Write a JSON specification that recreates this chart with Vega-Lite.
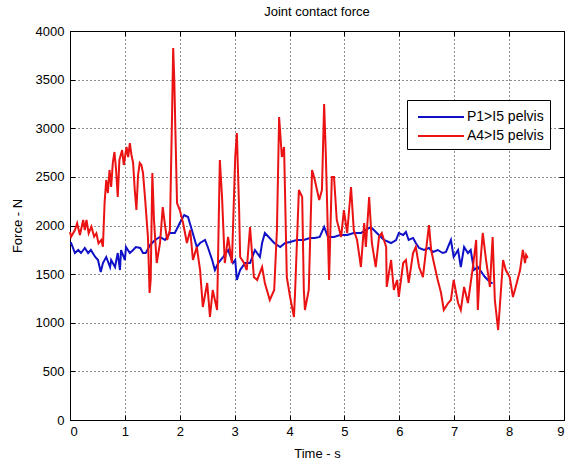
{
  "$schema": "https://vega.github.io/schema/vega-lite/v6.json",
  "width": 494,
  "height": 389,
  "autosize": {"type": "none"},
  "padding": {"left": 70, "top": 31, "right": 6, "bottom": 41},
  "background": "white",
  "config": {
    "font": "Liberation Sans",
    "view": {"stroke": "black", "strokeWidth": 1},
    "axis": {
      "domainColor": "black",
      "tickColor": "black",
      "labelColor": "black",
      "titleColor": "black",
      "labelFont": "Liberation Sans",
      "titleFont": "Liberation Sans",
      "labelFontSize": 13,
      "titleFontSize": 13,
      "titleFontWeight": "normal",
      "gridColor": "black",
      "gridDash": [1, 3],
      "gridOpacity": 0.9,
      "gridWidth": 1,
      "tickSize": -5
    }
  },
  "title": {"text": "Joint contact force", "fontSize": 13, "fontWeight": "normal", "color": "black", "font": "Liberation Sans", "offset": 6},
  "data": {"values": [
    {"s":"P1>I5 pelvis","t":0,"f":1820},{"s":"P1>I5 pelvis","t":0.02,"f":1820},{"s":"P1>I5 pelvis","t":0.09,"f":1717},{"s":"P1>I5 pelvis","t":0.15,"f":1748},{"s":"P1>I5 pelvis","t":0.2,"f":1717},{"s":"P1>I5 pelvis","t":0.27,"f":1769},{"s":"P1>I5 pelvis","t":0.33,"f":1717},{"s":"P1>I5 pelvis","t":0.38,"f":1748},{"s":"P1>I5 pelvis","t":0.46,"f":1676},{"s":"P1>I5 pelvis","t":0.51,"f":1645},{"s":"P1>I5 pelvis","t":0.56,"f":1522},{"s":"P1>I5 pelvis","t":0.6,"f":1614},{"s":"P1>I5 pelvis","t":0.66,"f":1676},{"s":"P1>I5 pelvis","t":0.73,"f":1573},{"s":"P1>I5 pelvis","t":0.75,"f":1645},{"s":"P1>I5 pelvis","t":0.82,"f":1573},{"s":"P1>I5 pelvis","t":0.87,"f":1717},{"s":"P1>I5 pelvis","t":0.91,"f":1542},{"s":"P1>I5 pelvis","t":0.93,"f":1748},{"s":"P1>I5 pelvis","t":1.0,"f":1645},{"s":"P1>I5 pelvis","t":1.02,"f":1779},{"s":"P1>I5 pelvis","t":1.09,"f":1717},{"s":"P1>I5 pelvis","t":1.15,"f":1748},{"s":"P1>I5 pelvis","t":1.2,"f":1779},{"s":"P1>I5 pelvis","t":1.28,"f":1769},{"s":"P1>I5 pelvis","t":1.33,"f":1717},{"s":"P1>I5 pelvis","t":1.38,"f":1717},{"s":"P1>I5 pelvis","t":1.46,"f":1800},{"s":"P1>I5 pelvis","t":1.55,"f":1851},{"s":"P1>I5 pelvis","t":1.64,"f":1882},{"s":"P1>I5 pelvis","t":1.73,"f":1851},{"s":"P1>I5 pelvis","t":1.82,"f":1923},{"s":"P1>I5 pelvis","t":1.91,"f":1923},{"s":"P1>I5 pelvis","t":2.0,"f":2026},{"s":"P1>I5 pelvis","t":2.08,"f":2108},{"s":"P1>I5 pelvis","t":2.15,"f":2087},{"s":"P1>I5 pelvis","t":2.22,"f":1954},{"s":"P1>I5 pelvis","t":2.31,"f":1779},{"s":"P1>I5 pelvis","t":2.37,"f":1820},{"s":"P1>I5 pelvis","t":2.46,"f":1851},{"s":"P1>I5 pelvis","t":2.51,"f":1779},{"s":"P1>I5 pelvis","t":2.59,"f":1645},{"s":"P1>I5 pelvis","t":2.64,"f":1542},{"s":"P1>I5 pelvis","t":2.7,"f":1614},{"s":"P1>I5 pelvis","t":2.79,"f":1676},{"s":"P1>I5 pelvis","t":2.88,"f":1748},{"s":"P1>I5 pelvis","t":2.97,"f":1614},{"s":"P1>I5 pelvis","t":3.01,"f":1645},{"s":"P1>I5 pelvis","t":3.04,"f":1440},{"s":"P1>I5 pelvis","t":3.1,"f":1542},{"s":"P1>I5 pelvis","t":3.19,"f":1614},{"s":"P1>I5 pelvis","t":3.28,"f":1614},{"s":"P1>I5 pelvis","t":3.37,"f":1748},{"s":"P1>I5 pelvis","t":3.46,"f":1676},{"s":"P1>I5 pelvis","t":3.5,"f":1820},{"s":"P1>I5 pelvis","t":3.55,"f":1923},{"s":"P1>I5 pelvis","t":3.62,"f":1882},{"s":"P1>I5 pelvis","t":3.72,"f":1820},{"s":"P1>I5 pelvis","t":3.83,"f":1779},{"s":"P1>I5 pelvis","t":3.92,"f":1820},{"s":"P1>I5 pelvis","t":4.01,"f":1830},{"s":"P1>I5 pelvis","t":4.13,"f":1851},{"s":"P1>I5 pelvis","t":4.26,"f":1851},{"s":"P1>I5 pelvis","t":4.37,"f":1872},{"s":"P1>I5 pelvis","t":4.46,"f":1872},{"s":"P1>I5 pelvis","t":4.55,"f":1882},{"s":"P1>I5 pelvis","t":4.63,"f":1985},{"s":"P1>I5 pelvis","t":4.7,"f":1882},{"s":"P1>I5 pelvis","t":4.81,"f":1882},{"s":"P1>I5 pelvis","t":4.92,"f":1902},{"s":"P1>I5 pelvis","t":5.05,"f":1902},{"s":"P1>I5 pelvis","t":5.17,"f":1923},{"s":"P1>I5 pelvis","t":5.3,"f":1923},{"s":"P1>I5 pelvis","t":5.39,"f":1954},{"s":"P1>I5 pelvis","t":5.48,"f":1985},{"s":"P1>I5 pelvis","t":5.59,"f":1923},{"s":"P1>I5 pelvis","t":5.72,"f":1851},{"s":"P1>I5 pelvis","t":5.85,"f":1820},{"s":"P1>I5 pelvis","t":5.94,"f":1851},{"s":"P1>I5 pelvis","t":5.99,"f":1923},{"s":"P1>I5 pelvis","t":6.07,"f":1902},{"s":"P1>I5 pelvis","t":6.12,"f":1933},{"s":"P1>I5 pelvis","t":6.17,"f":1851},{"s":"P1>I5 pelvis","t":6.25,"f":1872},{"s":"P1>I5 pelvis","t":6.3,"f":1820},{"s":"P1>I5 pelvis","t":6.36,"f":1769},{"s":"P1>I5 pelvis","t":6.45,"f":1748},{"s":"P1>I5 pelvis","t":6.54,"f":1769},{"s":"P1>I5 pelvis","t":6.61,"f":1728},{"s":"P1>I5 pelvis","t":6.7,"f":1748},{"s":"P1>I5 pelvis","t":6.79,"f":1717},{"s":"P1>I5 pelvis","t":6.85,"f":1728},{"s":"P1>I5 pelvis","t":6.94,"f":1851},{"s":"P1>I5 pelvis","t":6.99,"f":1676},{"s":"P1>I5 pelvis","t":7.07,"f":1748},{"s":"P1>I5 pelvis","t":7.12,"f":1573},{"s":"P1>I5 pelvis","t":7.18,"f":1779},{"s":"P1>I5 pelvis","t":7.25,"f":1717},{"s":"P1>I5 pelvis","t":7.3,"f":1748},{"s":"P1>I5 pelvis","t":7.36,"f":1542},{"s":"P1>I5 pelvis","t":7.43,"f":1573},{"s":"P1>I5 pelvis","t":7.56,"f":1470},{"s":"P1>I5 pelvis","t":7.67,"f":1409},{"s":"P1>I5 pelvis","t":7.7,"f":1409},
    {"s":"A4>I5 pelvis","t":0,"f":1933},{"s":"A4>I5 pelvis","t":0.02,"f":1885},{"s":"A4>I5 pelvis","t":0.09,"f":1954},{"s":"A4>I5 pelvis","t":0.13,"f":2023},{"s":"A4>I5 pelvis","t":0.18,"f":1902},{"s":"A4>I5 pelvis","t":0.24,"f":2057},{"s":"A4>I5 pelvis","t":0.27,"f":1954},{"s":"A4>I5 pelvis","t":0.3,"f":2057},{"s":"A4>I5 pelvis","t":0.34,"f":1920},{"s":"A4>I5 pelvis","t":0.39,"f":1988},{"s":"A4>I5 pelvis","t":0.44,"f":1885},{"s":"A4>I5 pelvis","t":0.48,"f":1920},{"s":"A4>I5 pelvis","t":0.52,"f":1817},{"s":"A4>I5 pelvis","t":0.57,"f":1851},{"s":"A4>I5 pelvis","t":0.6,"f":1782},{"s":"A4>I5 pelvis","t":0.63,"f":2231},{"s":"A4>I5 pelvis","t":0.66,"f":2468},{"s":"A4>I5 pelvis","t":0.69,"f":2334},{"s":"A4>I5 pelvis","t":0.72,"f":2571},{"s":"A4>I5 pelvis","t":0.75,"f":2396},{"s":"A4>I5 pelvis","t":0.78,"f":2643},{"s":"A4>I5 pelvis","t":0.81,"f":2756},{"s":"A4>I5 pelvis","t":0.84,"f":2571},{"s":"A4>I5 pelvis","t":0.87,"f":2293},{"s":"A4>I5 pelvis","t":0.9,"f":2674},{"s":"A4>I5 pelvis","t":0.95,"f":2776},{"s":"A4>I5 pelvis","t":0.98,"f":2622},{"s":"A4>I5 pelvis","t":1.03,"f":2807},{"s":"A4>I5 pelvis","t":1.06,"f":2704},{"s":"A4>I5 pelvis","t":1.09,"f":2848},{"s":"A4>I5 pelvis","t":1.12,"f":2725},{"s":"A4>I5 pelvis","t":1.15,"f":2643},{"s":"A4>I5 pelvis","t":1.18,"f":2365},{"s":"A4>I5 pelvis","t":1.21,"f":2159},{"s":"A4>I5 pelvis","t":1.24,"f":2519},{"s":"A4>I5 pelvis","t":1.27,"f":2643},{"s":"A4>I5 pelvis","t":1.3,"f":2622},{"s":"A4>I5 pelvis","t":1.33,"f":2540},{"s":"A4>I5 pelvis","t":1.37,"f":2262},{"s":"A4>I5 pelvis","t":1.42,"f":1882},{"s":"A4>I5 pelvis","t":1.45,"f":1306},{"s":"A4>I5 pelvis","t":1.47,"f":1440},{"s":"A4>I5 pelvis","t":1.5,"f":2540},{"s":"A4>I5 pelvis","t":1.53,"f":2057},{"s":"A4>I5 pelvis","t":1.58,"f":1614},{"s":"A4>I5 pelvis","t":1.64,"f":1820},{"s":"A4>I5 pelvis","t":1.69,"f":2190},{"s":"A4>I5 pelvis","t":1.73,"f":2005},{"s":"A4>I5 pelvis","t":1.77,"f":1851},{"s":"A4>I5 pelvis","t":1.82,"f":1954},{"s":"A4>I5 pelvis","t":1.86,"f":3157},{"s":"A4>I5 pelvis","t":1.88,"f":3825},{"s":"A4>I5 pelvis","t":1.9,"f":3496},{"s":"A4>I5 pelvis","t":1.92,"f":2982},{"s":"A4>I5 pelvis","t":1.95,"f":2231},{"s":"A4>I5 pelvis","t":2.0,"f":2159},{"s":"A4>I5 pelvis","t":2.06,"f":2026},{"s":"A4>I5 pelvis","t":2.13,"f":1820},{"s":"A4>I5 pelvis","t":2.19,"f":1954},{"s":"A4>I5 pelvis","t":2.24,"f":1645},{"s":"A4>I5 pelvis","t":2.31,"f":1779},{"s":"A4>I5 pelvis","t":2.37,"f":1542},{"s":"A4>I5 pelvis","t":2.42,"f":1162},{"s":"A4>I5 pelvis","t":2.5,"f":1409},{"s":"A4>I5 pelvis","t":2.55,"f":1059},{"s":"A4>I5 pelvis","t":2.6,"f":1337},{"s":"A4>I5 pelvis","t":2.68,"f":1131},{"s":"A4>I5 pelvis","t":2.73,"f":2674},{"s":"A4>I5 pelvis","t":2.77,"f":2293},{"s":"A4>I5 pelvis","t":2.82,"f":1614},{"s":"A4>I5 pelvis","t":2.88,"f":1882},{"s":"A4>I5 pelvis","t":2.95,"f":1614},{"s":"A4>I5 pelvis","t":3.01,"f":2704},{"s":"A4>I5 pelvis","t":3.04,"f":2951},{"s":"A4>I5 pelvis","t":3.08,"f":2190},{"s":"A4>I5 pelvis","t":3.1,"f":1676},{"s":"A4>I5 pelvis","t":3.17,"f":1614},{"s":"A4>I5 pelvis","t":3.22,"f":1542},{"s":"A4>I5 pelvis","t":3.28,"f":1985},{"s":"A4>I5 pelvis","t":3.35,"f":1470},{"s":"A4>I5 pelvis","t":3.41,"f":1440},{"s":"A4>I5 pelvis","t":3.5,"f":1573},{"s":"A4>I5 pelvis","t":3.55,"f":1409},{"s":"A4>I5 pelvis","t":3.64,"f":1234},{"s":"A4>I5 pelvis","t":3.72,"f":1337},{"s":"A4>I5 pelvis","t":3.77,"f":1954},{"s":"A4>I5 pelvis","t":3.81,"f":3116},{"s":"A4>I5 pelvis","t":3.86,"f":2704},{"s":"A4>I5 pelvis","t":3.9,"f":2807},{"s":"A4>I5 pelvis","t":3.95,"f":1470},{"s":"A4>I5 pelvis","t":4.01,"f":1265},{"s":"A4>I5 pelvis","t":4.08,"f":1059},{"s":"A4>I5 pelvis","t":4.1,"f":1306},{"s":"A4>I5 pelvis","t":4.17,"f":2365},{"s":"A4>I5 pelvis","t":4.23,"f":2293},{"s":"A4>I5 pelvis","t":4.26,"f":1337},{"s":"A4>I5 pelvis","t":4.28,"f":1131},{"s":"A4>I5 pelvis","t":4.35,"f":1337},{"s":"A4>I5 pelvis","t":4.41,"f":2571},{"s":"A4>I5 pelvis","t":4.46,"f":2468},{"s":"A4>I5 pelvis","t":4.54,"f":2262},{"s":"A4>I5 pelvis","t":4.59,"f":2365},{"s":"A4>I5 pelvis","t":4.63,"f":3249},{"s":"A4>I5 pelvis","t":4.66,"f":2746},{"s":"A4>I5 pelvis","t":4.72,"f":1440},{"s":"A4>I5 pelvis","t":4.77,"f":2499},{"s":"A4>I5 pelvis","t":4.81,"f":2499},{"s":"A4>I5 pelvis","t":4.86,"f":2057},{"s":"A4>I5 pelvis","t":4.94,"f":1882},{"s":"A4>I5 pelvis","t":4.99,"f":2159},{"s":"A4>I5 pelvis","t":5.05,"f":1923},{"s":"A4>I5 pelvis","t":5.12,"f":2396},{"s":"A4>I5 pelvis","t":5.17,"f":1954},{"s":"A4>I5 pelvis","t":5.23,"f":1851},{"s":"A4>I5 pelvis","t":5.3,"f":1573},{"s":"A4>I5 pelvis","t":5.36,"f":2026},{"s":"A4>I5 pelvis","t":5.39,"f":1779},{"s":"A4>I5 pelvis","t":5.45,"f":2293},{"s":"A4>I5 pelvis","t":5.5,"f":1820},{"s":"A4>I5 pelvis","t":5.57,"f":1573},{"s":"A4>I5 pelvis","t":5.63,"f":1882},{"s":"A4>I5 pelvis","t":5.68,"f":1923},{"s":"A4>I5 pelvis","t":5.76,"f":1779},{"s":"A4>I5 pelvis","t":5.77,"f":1368},{"s":"A4>I5 pelvis","t":5.85,"f":1645},{"s":"A4>I5 pelvis","t":5.9,"f":1337},{"s":"A4>I5 pelvis","t":5.96,"f":1440},{"s":"A4>I5 pelvis","t":5.99,"f":1265},{"s":"A4>I5 pelvis","t":6.07,"f":1614},{"s":"A4>I5 pelvis","t":6.12,"f":1645},{"s":"A4>I5 pelvis","t":6.17,"f":1409},{"s":"A4>I5 pelvis","t":6.25,"f":1717},{"s":"A4>I5 pelvis","t":6.3,"f":1779},{"s":"A4>I5 pelvis","t":6.36,"f":1573},{"s":"A4>I5 pelvis","t":6.43,"f":1470},{"s":"A4>I5 pelvis","t":6.48,"f":1717},{"s":"A4>I5 pelvis","t":6.54,"f":2005},{"s":"A4>I5 pelvis","t":6.58,"f":1748},{"s":"A4>I5 pelvis","t":6.63,"f":1614},{"s":"A4>I5 pelvis","t":6.7,"f":1440},{"s":"A4>I5 pelvis","t":6.76,"f":1306},{"s":"A4>I5 pelvis","t":6.81,"f":1131},{"s":"A4>I5 pelvis","t":6.89,"f":1203},{"s":"A4>I5 pelvis","t":6.94,"f":1234},{"s":"A4>I5 pelvis","t":6.99,"f":1440},{"s":"A4>I5 pelvis","t":7.07,"f":1203},{"s":"A4>I5 pelvis","t":7.12,"f":1131},{"s":"A4>I5 pelvis","t":7.18,"f":1368},{"s":"A4>I5 pelvis","t":7.25,"f":1203},{"s":"A4>I5 pelvis","t":7.3,"f":1409},{"s":"A4>I5 pelvis","t":7.34,"f":1573},{"s":"A4>I5 pelvis","t":7.4,"f":1851},{"s":"A4>I5 pelvis","t":7.43,"f":1131},{"s":"A4>I5 pelvis","t":7.47,"f":1573},{"s":"A4>I5 pelvis","t":7.52,"f":1923},{"s":"A4>I5 pelvis","t":7.58,"f":1645},{"s":"A4>I5 pelvis","t":7.65,"f":1368},{"s":"A4>I5 pelvis","t":7.7,"f":1882},{"s":"A4>I5 pelvis","t":7.74,"f":1234},{"s":"A4>I5 pelvis","t":7.8,"f":925},{"s":"A4>I5 pelvis","t":7.83,"f":1162},{"s":"A4>I5 pelvis","t":7.89,"f":1645},{"s":"A4>I5 pelvis","t":7.94,"f":1542},{"s":"A4>I5 pelvis","t":8.01,"f":1470},{"s":"A4>I5 pelvis","t":8.07,"f":1265},{"s":"A4>I5 pelvis","t":8.12,"f":1368},{"s":"A4>I5 pelvis","t":8.2,"f":1542},{"s":"A4>I5 pelvis","t":8.25,"f":1748},{"s":"A4>I5 pelvis","t":8.29,"f":1614},{"s":"A4>I5 pelvis","t":8.31,"f":1697},{"s":"A4>I5 pelvis","t":8.34,"f":1666}
  ]},
  "layer": [
    {
      "mark": {"type": "line", "strokeWidth": 2},
      "encoding": {
        "x": {"field": "t", "type": "quantitative", "scale": {"domain": [0, 9], "nice": false, "zero": false},
              "axis": {"orient": "bottom", "values": [0,1,2,3,4,5,6,7,8,9], "grid": true, "labelPadding": 10, "title": "Time - s", "titleX": 247, "titleY": 33, "titleBaseline": "middle", "titleAnchor": null}},
        "y": {"field": "f", "type": "quantitative", "scale": {"domain": [0, 4000], "nice": false},
              "axis": {"orient": "left", "format": "d", "values": [0,500,1000,1500,2000,2500,3000,3500,4000], "grid": true, "labelPadding": 11, "title": "Force - N", "titleX": -53, "titleY": 194.5, "titleBaseline": "middle", "titleAnchor": null}},
        "color": {"field": "s", "type": "nominal", "sort": null,
                  "scale": {"domain": ["P1>I5 pelvis", "A4>I5 pelvis"], "range": ["#1010c8", "#ea1212"]},
                  "legend": {"title": null, "orient": "none", "legendX": 337, "legendY": 69, "fillColor": "white", "strokeColor": "black", "padding": 6, "symbolType": "M-0.6,0H4", "symbolSize": 400, "symbolStrokeWidth": 2, "labelFontSize": 14, "labelColor": "black", "labelFont": "Liberation Sans", "rowPadding": 1, "labelOffset": 32}}
      }
    },
    {
      "mark": {"type": "line", "opacity": 0},
      "encoding": {
        "x": {"field": "t", "type": "quantitative", "axis": {"orient": "top", "values": [0,1,2,3,4,5,6,7,8,9], "labels": false, "grid": false, "domain": false, "title": null}},
        "y": {"field": "f", "type": "quantitative", "axis": {"orient": "right", "values": [0,500,1000,1500,2000,2500,3000,3500,4000], "labels": false, "grid": false, "domain": false, "title": null}}
      }
    }
  ],
  "resolve": {"axis": {"x": "independent", "y": "independent"}}
}
